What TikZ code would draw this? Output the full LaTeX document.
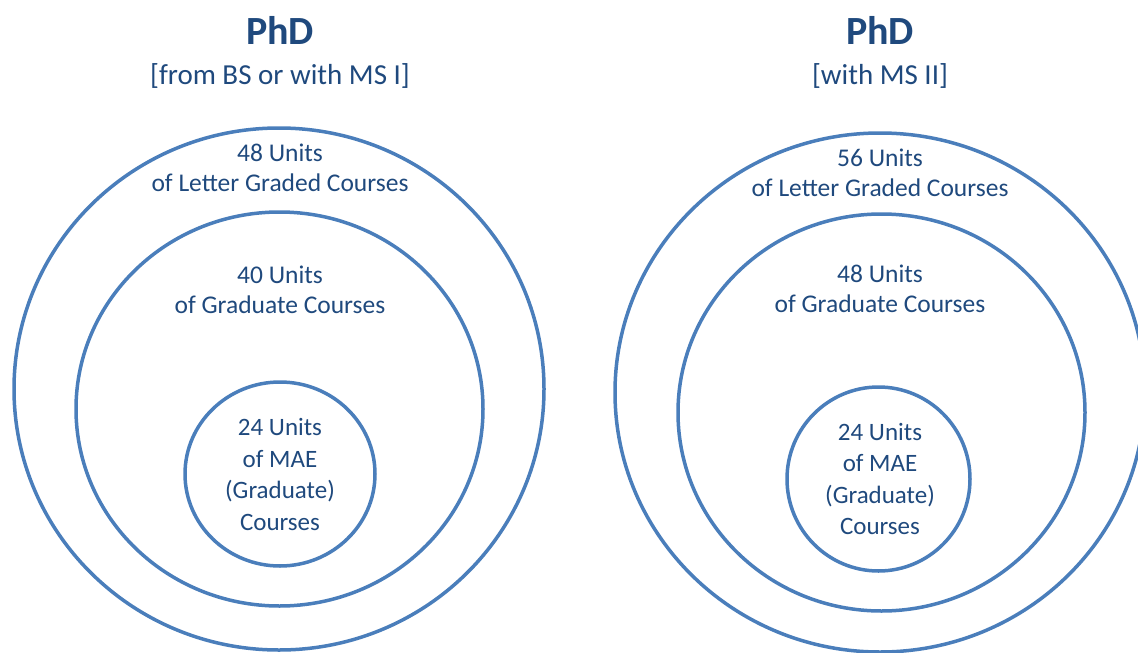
\documentclass[tikz,border=0pt]{standalone}
\usepackage{fontspec}
\setmainfont{Carlito}
\usetikzlibrary{shapes.geometric}
\definecolor{ringblue}{HTML}{4A7EBB}
\definecolor{txtblue}{HTML}{1F497D}
\begin{document}
\begin{tikzpicture}[x=1pt,y=-1pt,
  ring/.style={draw=ringblue, line width=3.5pt, ellipse, inner sep=0pt},
  lbl/.style={text=txtblue, align=center, font=\fontsize{25.5}{30}\selectfont, inner sep=0pt},
  innerlbl/.style={text=txtblue, align=center, font=\fontsize{25}{31.5}\selectfont, inner sep=0pt},
  ttl/.style={text=txtblue, font=\fontsize{40}{46}\selectfont\bfseries, inner sep=0pt},
  subttl/.style={text=txtblue, font=\fontsize{29}{34}\selectfont, inner sep=0pt}]
\useasboundingbox (0,0) rectangle (1138,653);
\clip (0,0) rectangle (1138,653);
% left diagram
\node[ring, minimum width=530pt, minimum height=522pt] (outerL) at (279,389) {};
\node[ring, minimum width=407pt, minimum height=394pt] (midL) at (279.5,409) {};
\node[ring, minimum width=190pt, minimum height=184pt] (innL) at (280,474) {};
\node[ttl] (phdL) at (280,30) {PhD};
\node[subttl] (subL) at (280,76) {[from BS or with MS I]};
\node[lbl] (txtOL) at (280,168) {48 Units\\of Letter Graded Courses};
\node[lbl] (txtML) at (280,290) {40 Units\\of Graduate Courses};
\node[innerlbl] (txtIL) at (280,474.5) {24 Units\\of MAE\\(Graduate)\\Courses};
% right diagram
\node[ring, minimum width=530pt, minimum height=519pt] (outerR) at (880,392.5) {};
\node[ring, minimum width=407pt, minimum height=397pt] (midR) at (881.5,412.5) {};
\node[ring, minimum width=183pt, minimum height=184pt] (innR) at (878.5,479) {};
\node[ttl] (phdR) at (880,30) {PhD};
\node[subttl] (subR) at (880,76) {[with MS II]};
\node[lbl] (txtOR) at (880,173) {56 Units\\of Letter Graded Courses};
\node[lbl] (txtMR) at (880,288.5) {48 Units\\of Graduate Courses};
\node[innerlbl] (txtIR) at (880,479) {24 Units\\of MAE\\(Graduate)\\Courses};
\end{tikzpicture}
\end{document}
